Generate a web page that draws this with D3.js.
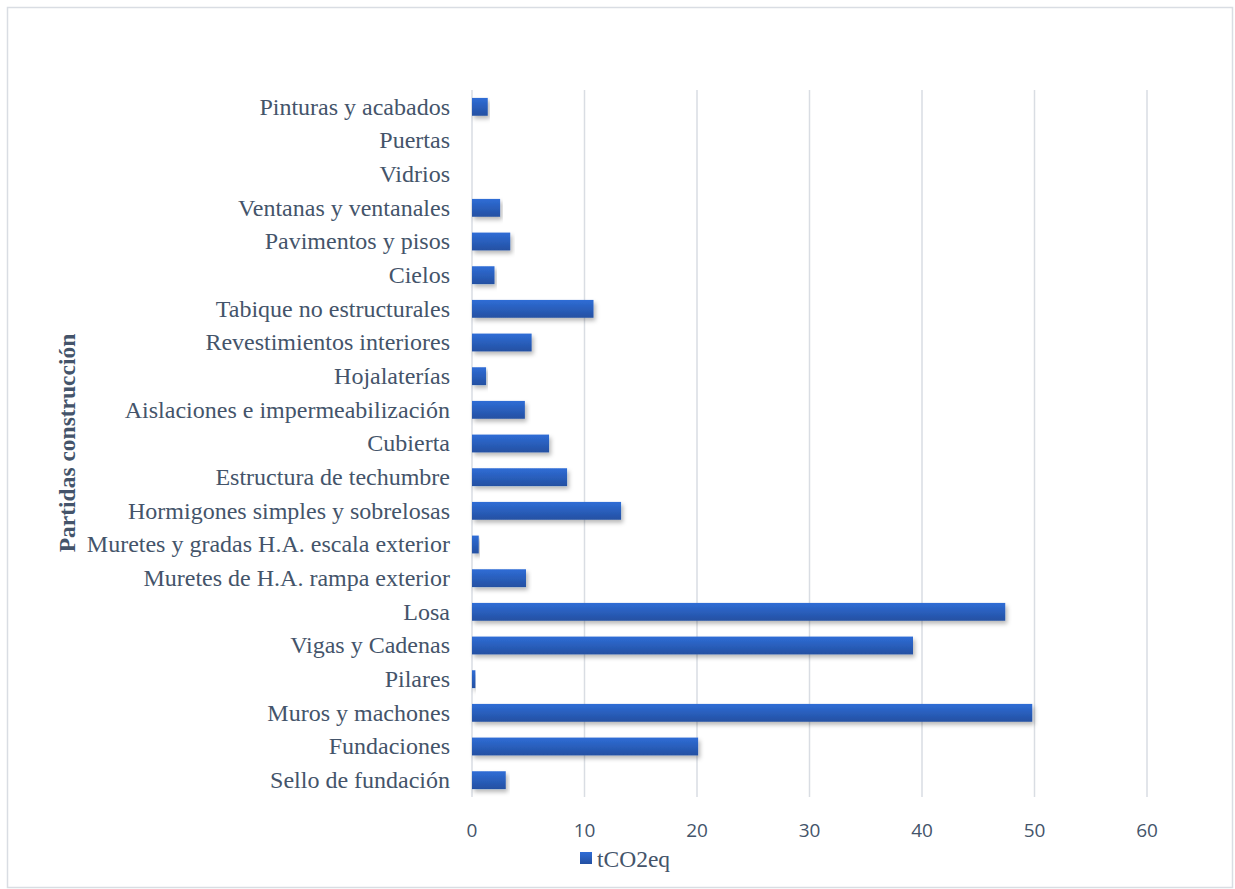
<!DOCTYPE html>
<html><head><meta charset="utf-8">
<script src="https://cdn.jsdelivr.net/npm/d3@7"></script>
<style>body{margin:0;background:#fff}</style>
</head><body>
<svg id="c" width="1235" height="889"></svg>
<script>
const categories = ["Pinturas y acabados","Puertas","Vidrios","Ventanas y ventanales","Pavimentos y pisos","Cielos","Tabique no estructurales","Revestimientos interiores","Hojalaterías","Aislaciones e impermeabilización","Cubierta","Estructura de techumbre","Hormigones simples y sobrelosas","Muretes y gradas H.A. escala exterior","Muretes de H.A. rampa exterior","Losa","Vigas y Cadenas","Pilares","Muros y machones","Fundaciones","Sello de fundación"];
const values = [1.4,0,0,2.5,3.4,2.0,10.8,5.3,1.25,4.7,6.85,8.45,13.25,0.6,4.8,47.4,39.2,0.3,49.8,20.1,3.0];
const xTicks = [0,10,20,30,40,50,60];
const seriesName = "tCO2eq";

const svg = d3.select("#c");
const defs = svg.append("defs");
const g = defs.append("linearGradient").attr("id","bg").attr("x1",0).attr("y1",0).attr("x2",0).attr("y2",1);
g.append("stop").attr("offset","0%").attr("stop-color","#2f6dd6");
g.append("stop").attr("offset","100%").attr("stop-color","#2450a2");
const f = defs.append("filter").attr("id","sh").attr("x","-5%").attr("y","-30%").attr("width","115%").attr("height","190%");
f.append("feDropShadow").attr("dx",2).attr("dy",3).attr("stdDeviation",2).attr("flood-color","#000").attr("flood-opacity",0.28);

svg.append("rect").attr("x",7.5).attr("y",7.5).attr("width",1225).attr("height",880)
  .attr("fill","#fff").attr("stroke","#d9dde3").attr("stroke-width",1.5);

const x = d3.scaleLinear().domain([0,60]).range([472,1147]);
const y = d3.scaleBand().domain(categories).range([90,797]).paddingInner(0.47).paddingOuter(0.235);

svg.append("g").selectAll("line").data(xTicks).join("line")
  .attr("x1",d=>x(d)).attr("x2",d=>x(d)).attr("y1",90).attr("y2",797)
  .attr("stroke","#d9dde3").attr("stroke-width",1.5);

svg.append("g").selectAll("rect").data(categories).join("rect")
  .attr("x",x(0)).attr("y",d=>y(d)).attr("height",y.bandwidth())
  .attr("width",(d,i)=>Math.max(0,x(values[i])-x(0)))
  .attr("fill","url(#bg)").attr("filter","url(#sh)");

svg.append("g").selectAll("text").data(categories).join("text")
  .attr("x",450).attr("y",d=>y(d)+y.bandwidth()/2).attr("dy","0.33em")
  .attr("text-anchor","end").attr("font-family","Liberation Serif, serif").attr("font-size",24)
  .attr("fill","#44546a").text(d=>d);

svg.append("g").selectAll("text").data(xTicks).join("text")
  .attr("x",d=>x(d)).attr("y",830).attr("dy","0.35em").attr("text-anchor","middle")
  .attr("font-family","Open Sans, sans-serif").attr("font-size",19)
  .attr("fill","#44546a").text(d=>d);

svg.append("text").attr("transform","translate(67,443) rotate(-90)")
  .attr("text-anchor","middle").attr("dy","0.35em")
  .attr("font-family","Liberation Serif, serif").attr("font-weight","bold").attr("font-size",23.5)
  .attr("fill","#44546a").text("Partidas construcción");

svg.append("rect").attr("x",580).attr("y",852).attr("width",12).attr("height",12).attr("fill","url(#bg)");
svg.append("text").attr("x",597).attr("y",859).attr("dy","0.33em")
  .attr("font-family","Liberation Serif, serif").attr("font-size",23.5)
  .attr("fill","#44546a").text(seriesName);
</script>
</body></html>
